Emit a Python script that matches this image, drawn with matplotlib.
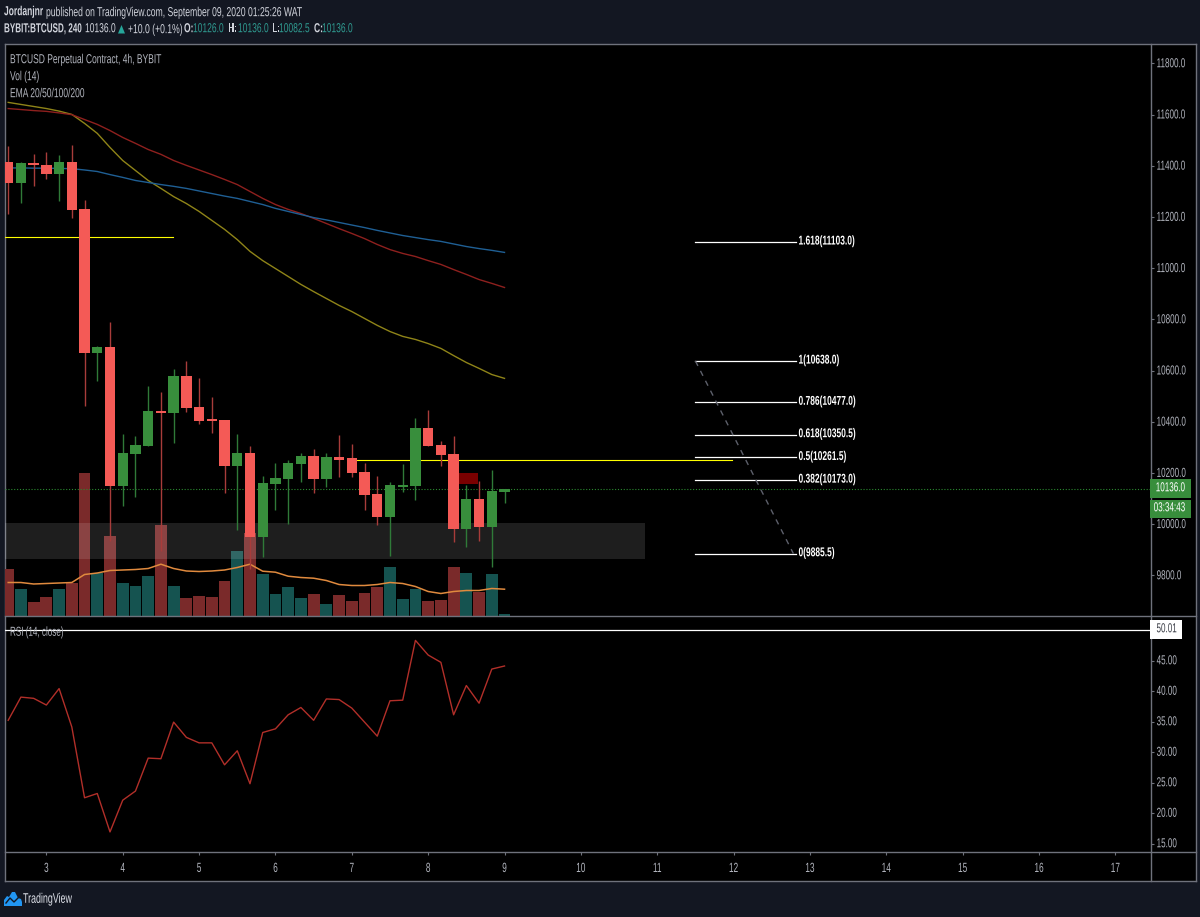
import matplotlib
matplotlib.use("Agg")
import matplotlib.pyplot as plt
from matplotlib.lines import Line2D
from matplotlib.patches import Rectangle, Polygon
from matplotlib.patheffects import AbstractPathEffect
from matplotlib.ticker import FormatStrFormatter
from matplotlib.transforms import Affine2D

# 4h BTCUSD candles, oldest first
opens = [11417, 11332, 11409, 11405, 11370, 11417, 11230, 10671, 10691, 10149,
         10273, 10304, 10441, 10433, 10581, 10460, 10409, 10409, 10226, 10280,
         9952, 10159, 10175, 10234, 10265, 10175, 10261, 10257, 10206, 10120,
         10027, 10146, 10148, 10378, 10308, 10273, 9980, 10097, 9988, 10126]
highs = [11476, 11417, 11448, 11456, 11441, 11480, 11265, 10695, 10792, 10351,
         10343, 10542, 10515, 10605, 10636, 10570, 10499, 10409, 10351, 10304,
         10187, 10241, 10253, 10280, 10296, 10280, 10347, 10312, 10238, 10187,
         10167, 10234, 10417, 10448, 10327, 10343, 10155, 10171, 10214, 10136]
lows = [11211, 11254, 11321, 11347, 11261, 11195, 10461, 10559, 9934, 10071,
        10106, 10304, 9895, 10317, 10437, 10390, 10355, 10124, 9976, 9825,
        9874, 10054, 10003, 10167, 10124, 10144, 10183, 10183, 10054, 9999,
        9878, 10128, 10093, 10304, 10226, 9929, 9913, 9933, 9835, 10082.5]
closes = [11332, 11413, 11402, 11370, 11417, 11226, 10671, 10691, 10149, 10277,
          10308, 10441, 10433, 10581, 10456, 10405, 10405, 10226, 10280, 9952,
          10163, 10179, 10238, 10265, 10175, 10261, 10253, 10202, 10116, 10027,
          10152, 10152, 10378, 10304, 10269, 9980, 10097, 9988, 10132, 10136]

volumes = [47, 27, 14, 19, 27, 33, 143, 43, 80, 33, 30, 40, 91, 30, 18, 20, 19, 35, 65, 83,
           42, 22, 29, 18, 22, 12, 21, 15, 23, 29, 49, 17, 27, 15, 16, 49, 43, 24, 42, 2]
volume_ma = [33, 33, 31.5, 32, 32.5, 33, 41, 42.5, 45, 45.5, 46, 47, 51.3, 47, 44.5, 44,
             44.5, 45.5, 48, 51.3, 44.3, 43.3, 39.3, 38, 37.3, 35, 31, 30, 30, 31, 33, 32,
             29, 24, 22, 24, 25, 25, 27, 26.3]

ema_olive = [11648, 11640, 11632, 11624, 11614, 11601, 11566, 11527, 11472, 11421,
             11382, 11343, 11312, 11280, 11253, 11222, 11187, 11152, 11112, 11066,
             11030, 10999, 10968, 10937, 10909, 10882, 10855, 10831, 10804, 10777,
             10753, 10734, 10722, 10706, 10687, 10659, 10632, 10609, 10585, 10570]
ema_red = [11624, 11620, 11616, 11613, 11607, 11600, 11581, 11562, 11538, 11511,
           11488, 11464, 11445, 11421, 11402, 11384, 11366, 11347, 11327, 11300,
           11273, 11249, 11230, 11214, 11195, 11175, 11155, 11136, 11116, 11093,
           11073, 11058, 11046, 11030, 11015, 10995, 10976, 10956, 10941, 10925]
ema_blue = [11392, 11392, 11391, 11391, 11390, 11389, 11384, 11378, 11366, 11355,
            11343, 11335, 11327, 11320, 11312, 11302, 11292, 11282, 11273, 11261,
            11249, 11234, 11222, 11210, 11198, 11189, 11179, 11169, 11159, 11148,
            11138, 11128, 11120, 11112, 11105, 11095, 11085, 11077, 11070, 11062]

rsi = [35.2, 39.0, 38.8, 37.7, 40.4, 34.1, 22.5, 23.2, 16.9, 22.1,
       23.6, 29.0, 28.9, 34.9, 32.4, 31.5, 31.5, 27.9, 30.2, 24.8,
       33.2, 33.8, 36.1, 37.3, 35.2, 38.7, 38.6, 37.2, 34.9, 32.6,
       38.4, 38.5, 48.3, 45.9, 44.7, 36.1, 40.9, 38.0, 43.6, 44.1]

fib_ratios = ["1.618", "1", "0.786", "0.618", "0.5", "0.382", "0"]
fib_prices = [11103.0, 10638.0, 10477.0, 10350.5, 10261.5, 10173.0, 9885.5]

last_price = 10136.0
rsi_marker = 50.01
resistance_early = 11122
resistance_late = 10251
support_zone = (9866, 10007)
order_block = (10159, 10202)

price_ticks = list(range(9800, 11801, 200))
rsi_ticks = list(range(15, 46, 5))
day_labels = list(range(3, 18))
bars_per_day = 6

W, H = 1200, 917
BG = "#131722"
FRAME = "#6f727c"
AXIS_TEXT = "#b2b5be"
RED, GREEN = "#f45a56", "#388e3c"
RED_WICK, GREEN_WICK = "#a83c3a", "#2f7a38"
plt.rcParams["font.family"] = ["Liberation Sans", "DejaVu Sans"]


class Tall(AbstractPathEffect):
    """Stretch glyph outlines vertically, giving a condensed face at the text's width."""

    MID_LINE = 26  # about the middle of a line, in text-path units

    def __init__(self, sy):
        super().__init__()
        self.sy = sy

    def draw_path(self, renderer, gc, tpath, affine, rgbFace=None):
        stretch = Affine2D().translate(0, -self.MID_LINE).scale(1, self.sy).translate(0, self.MID_LINE)
        renderer.draw_path(gc, tpath, stretch + affine, rgbFace)


def condense(text, size, sx):
    """Set a text to the given nominal size, narrowed to sx of its normal width."""
    text.set_fontsize(size * sx)
    text.set_path_effects([Tall(1 / sx)])
    return text


def box(left, top, right, bottom):
    return [left / W, 1 - bottom / H, (right - left) / W, (bottom - top) / H]


def put(x, y, s, color="#d1d4dc", size=9.4, ha="left", weight="normal", sx=0.65):
    t = fig.text(x / W, 1 - y / H, s, color=color, ha=ha, va="center", fontweight=weight, zorder=20)
    return condense(t, size, sx)


fig = plt.figure(figsize=(W / 100, H / 100), dpi=100, facecolor=BG)

frame = fig.add_axes(box(4.5, 43.5, 1195.5, 880.5), facecolor="black", zorder=0)
frame.set_xticks([])
frame.set_yticks([])
for s in frame.spines.values():
    s.set_color(FRAME)
    s.set_linewidth(1)

PANEL = (4.5, 1150.5)
bar_xlim = (-0.29, 89.76)
price_ylim = (9643.75, 11878)
rsi_ylim = (13.69, 52.38)

# volume sits underneath the price pane
ax_vol = fig.add_axes(box(PANEL[0], 43.5, PANEL[1], 615.5), facecolor="none", zorder=1)
ax = fig.add_axes(box(PANEL[0], 43.5, PANEL[1], 615.5), facecolor="none", zorder=2)
ax_rsi = fig.add_axes(box(PANEL[0], 615.5, PANEL[1], 851.5), facecolor="none", zorder=2)

xs = list(range(len(closes)))
up = [c >= o for o, c in zip(opens, closes)]
vol_colors = ["#155350" if u else "#7a2a2a" for u in up]
ax_vol.bar(xs, volumes, width=0.93, color=vol_colors, linewidth=0)
ax_vol.plot(xs, volume_ma, color="#e08a3e", lw=1.1)
ax_vol.set_xlim(*bar_xlim)
ax_vol.set_ylim(0, 572)
ax_vol.axis("off")

# support zone, order block and horizontal levels
ax.fill_between([bar_xlim[0], 50], *support_zone, color="white", alpha=0.12, lw=0, zorder=1)
ax.fill_between([35.44, 36.93], *order_block, color="#7a0000", lw=0, zorder=1)
ax.plot([bar_xlim[0], 12.96], [resistance_early] * 2, color="#ffff00", lw=0.8, zorder=2)
ax.plot([27, 56.9], [resistance_late] * 2, color="#ffff00", lw=0.8, zorder=2)
ax.axhline(last_price, color="#2a8a30", lw=0.8, ls=(0, (1, 1.6)), zorder=2)

ax.plot(xs, ema_olive, color="#8f8418", lw=1, zorder=3)
ax.plot(xs, ema_red, color="#8e201e", lw=1, zorder=3)
ax.plot(xs, ema_blue, color="#1f5f94", lw=1, zorder=3)

# candles
for i in xs:
    ax.vlines(i, lows[i], highs[i], color=GREEN_WICK if up[i] else RED_WICK, lw=1, zorder=4)
ax.bar(xs, [max(abs(c - o), 8) for o, c in zip(opens, closes)],
       bottom=[min(o, c) for o, c in zip(opens, closes)], width=0.81,
       color=[GREEN if u else RED for u in up], linewidth=0, zorder=5)

# Fibonacci levels and the swing they are measured on
fib_x0, fib_x1 = 54.0, 61.9
for ratio, price in zip(fib_ratios, fib_prices):
    ax.plot([fib_x0, fib_x1], [price, price], color="white", lw=0.9, zorder=6)
    condense(ax.text(fib_x1 + 0.2, price, f"{ratio}({price:.1f})", color="white",
                     ha="left", va="center", fontweight="bold", zorder=6), 9.2, 0.66)
ax.plot([fib_x0, 61.7], [fib_prices[1], fib_prices[-1]], color="#5d606b", lw=1,
        ls=(0, (4, 4)), zorder=6)

ax.set_xlim(*bar_xlim)
ax.set_ylim(*price_ylim)
ax.set_xticks([])
ax.yaxis.tick_right()
ax.set_yticks(price_ticks)
ax.yaxis.set_major_formatter(FormatStrFormatter("%.1f"))

# RSI pane
ax_rsi.plot(xs, rsi, color="#b22f29", lw=1)
ax_rsi.axhline(rsi_marker, color="white", lw=0.9)
ax_rsi.set_xlim(*bar_xlim)
ax_rsi.set_ylim(*rsi_ylim)
ax_rsi.yaxis.tick_right()
ax_rsi.set_yticks(rsi_ticks)
ax_rsi.yaxis.set_major_formatter(FormatStrFormatter("%.2f"))
ax_rsi.set_xticks([3 + bars_per_day * (d - 3) for d in day_labels])
ax_rsi.set_xticklabels([str(d) for d in day_labels])

for a in (ax, ax_rsi):
    for s in a.spines.values():
        s.set_visible(False)
    a.tick_params(axis="y", colors=FRAME, labelcolor=AXIS_TEXT, length=2.2, width=0.8, pad=2.2)
    for label in a.get_yticklabels():
        condense(label, 9.4, 0.62)
ax_rsi.tick_params(axis="x", colors=FRAME, labelcolor=AXIS_TEXT, length=2.5, width=0.8, pad=7.7)
for label in ax_rsi.get_xticklabels():
    condense(label, 9.6, 0.62)

# pane separators
for (x0, y0, x1, y1) in [(4.5, 615.5, 1195.5, 615.5), (4.5, 851.5, 1195.5, 851.5),
                         (1150.5, 43.5, 1150.5, 880.5)]:
    fig.add_artist(Line2D([x0 / W, x1 / W], [1 - y0 / H, 1 - y1 / H], color=FRAME, lw=1, zorder=10))

# price scale badges
for (x0, y0, x1, y1, c) in [(1150, 479, 1191, 498, GREEN), (1150, 499.5, 1191, 518, GREEN),
                            (1150, 620, 1182, 639, "white")]:
    fig.add_artist(Rectangle((x0 / W, 1 - y1 / H), (x1 - x0) / W, (y1 - y0) / H,
                             transform=fig.transFigure, facecolor=c, edgecolor="none", zorder=15))
put(1170.5, 488.5, f"{last_price:.1f}", color="white", ha="center", sx=0.62)
put(1169.5, 508.5, "03:34:43", color="white", ha="center", sx=0.62)
put(1156.5, 629.5, f"{rsi_marker:.2f}", color="#3a3d46", sx=0.62)

# pane legends
put(10, 60.5, "BTCUSD Perpetual Contract, 4h, BYBIT", color=AXIS_TEXT)
put(10, 77.5, "Vol (14)", color=AXIS_TEXT)
put(10, 94.5, "EMA 20/50/100/200", color=AXIS_TEXT)
put(10, 633, "RSI (14, close)", color=AXIS_TEXT, sx=0.62)

# header rows
TEAL = "#2f9a90"
put(4, 12.5, "Jordanjnr", weight="bold")
put(46, 12.5, "published on TradingView.com, September 09, 2020 01:25:26 WAT", sx=0.66)
put(4, 29.5, "BYBIT:BTCUSD, 240", weight="bold", sx=0.62)
put(85, 29.5, "10136.0")
fig.add_artist(Polygon([(118 / W, 1 - 33.5 / H), (125 / W, 1 - 33.5 / H), (121.5 / W, 1 - 25 / H)],
                       transform=fig.transFigure, facecolor="#26a69a", edgecolor="none"))
put(128, 29.5, "+10.0 (+0.1%)", sx=0.66)
for x_label, label, x_value, value in [(184, "O:", 193, "10126.0"), (228, "H:", 238, "10136.0"),
                                       (272, "L:", 279, "10082.5"), (314, "C:", 322, "10136.0")]:
    put(x_label, 29.5, label, weight="bold")
    put(x_value, 29.5, value, color=TEAL)

# footer brand mark
logo = [(4, 906), (4, 900), (7, 896), (9, 897), (12, 892), (15, 892), (18, 898), (21, 899), (22, 902),
        (22, 906)]
fig.add_artist(Polygon([(x / W, 1 - y / H) for x, y in logo], transform=fig.transFigure,
                       facecolor="#2196f3", edgecolor="none"))
fig.add_artist(Line2D([x / W for x in (6, 10, 14, 18)], [1 - y / H for y in (903, 898, 902, 898)],
                      color=BG, lw=1))
put(23, 899, "TradingView", color="#e0e3eb", size=10, sx=0.64)

fig.savefig("out.png", dpi=100, facecolor=BG)
